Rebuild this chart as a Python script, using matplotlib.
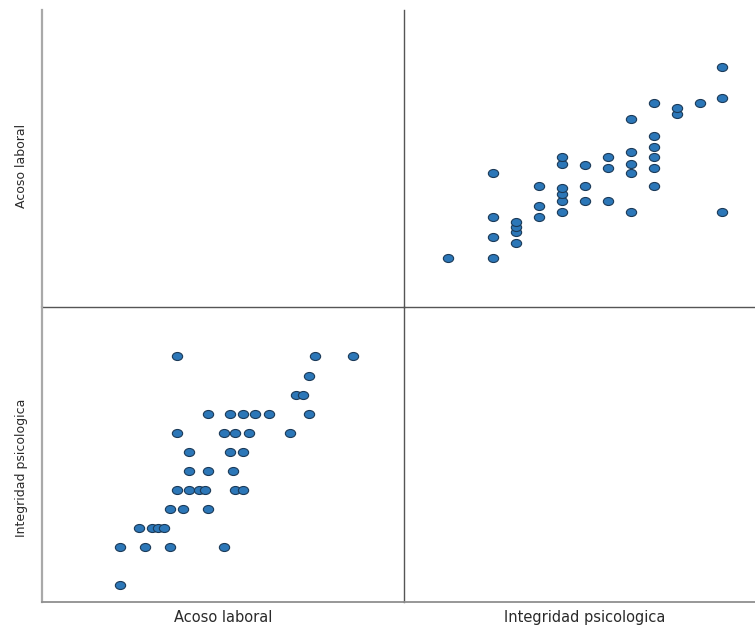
import matplotlib
matplotlib.use("Agg")
import matplotlib.pyplot as plt
from matplotlib.path import Path
from matplotlib.transforms import Affine2D

# Scores (one entry per case)
acoso = [20, 20, 24, 28, 36.5, 23, 25, 26, 27, 28, 30, 34,
         29, 31, 32.5, 33.5, 38.3, 39.5, 31, 34, 38, 31, 37.5, 39.5,
         29, 36.5, 38.2, 40.5, 47, 34, 37.5, 39.5, 41.5, 43.7, 50,
         48, 49, 50, 29, 51, 57]
integridad = [10, 12, 12, 12, 12, 13, 13, 13, 13, 14, 14, 14,
              15, 15, 15, 15, 15, 15, 16, 16, 16, 17, 17, 17,
              18, 18, 18, 18, 18, 19, 19, 19, 19, 19, 19,
              20, 20, 21, 22, 22, 22]

var_names = ["Acoso laboral", "Integridad psicologica"]
columns = {"Acoso laboral": acoso, "Integridad psicologica": integridad}

# per-panel limits, matching the SPSS frame
limits = {
    (1, 0): ((7.6, 65.1), (9.1, 24.6)),
    (0, 1): ((8.1, 23.9), (10.5, 68.1)),
}

fill = "#2c77b8"
edge = "#1b3a58"
ellipse = Path.unit_circle().transformed(Affine2D().scale(1.0, 0.78))

W, H, dpi = 755, 629, 100
fig = plt.figure(figsize=(W / dpi, H / dpi), dpi=dpi)
fig.patch.set_facecolor("white")

left, pw = 42, 362
top, mid_y, bottom = 10, 307, 602

label_font = dict(family=["DejaVu Sans"], size=10.5, color="#2a2a2a")
ylabel_font = dict(family=["Liberation Sans Narrow", "DejaVu Sans Condensed", "DejaVu Sans"],
                   size=9, color="#2a2a2a")

for r in range(2):
    for c in range(2):
        x0 = left + c * pw
        y_top = top if r == 0 else mid_y
        y_bot = mid_y if r == 0 else bottom
        ax = fig.add_axes([x0 / W, 1 - y_bot / H, pw / W, (y_bot - y_top) / H])
        ax.patch.set_facecolor("none")
        ax.set_xticks([])
        ax.set_yticks([])
        ax.spines["top"].set_visible(False)
        ax.spines["right"].set_visible(False)
        if c == 0:
            ax.spines["left"].set_color("#a9a9a9")
            ax.spines["left"].set_linewidth(1.6)
        else:
            ax.spines["left"].set_color("#555555")
            ax.spines["left"].set_linewidth(1.0)
        if r == 0:
            ax.spines["bottom"].set_color("#555555")
            ax.spines["bottom"].set_linewidth(1.0)
        else:
            ax.spines["bottom"].set_color("#8f8f8f")
            ax.spines["bottom"].set_linewidth(1.3)

        if r != c:
            xs = columns[var_names[c]]
            ys = columns[var_names[r]]
            ax.plot(xs, ys, linestyle="none", marker=ellipse, markersize=7.4,
                    markerfacecolor=fill, markeredgecolor=edge, markeredgewidth=0.8)
            xl, yl = limits[(r, c)]
            ax.set_xlim(*xl)
            ax.set_ylim(*yl)

        if r == 1:
            ax.set_xlabel(var_names[c], **label_font)
            ax.xaxis.set_label_coords(0.5, -0.028)
            ax.xaxis.label.set_va("top")
        if c == 0:
            ax.set_ylabel(var_names[r], **ylabel_font)
            ax.yaxis.set_label_coords(-0.038, 0.475 if r == 0 else 0.455)

fig.savefig("out.png", dpi=dpi, facecolor="white")
